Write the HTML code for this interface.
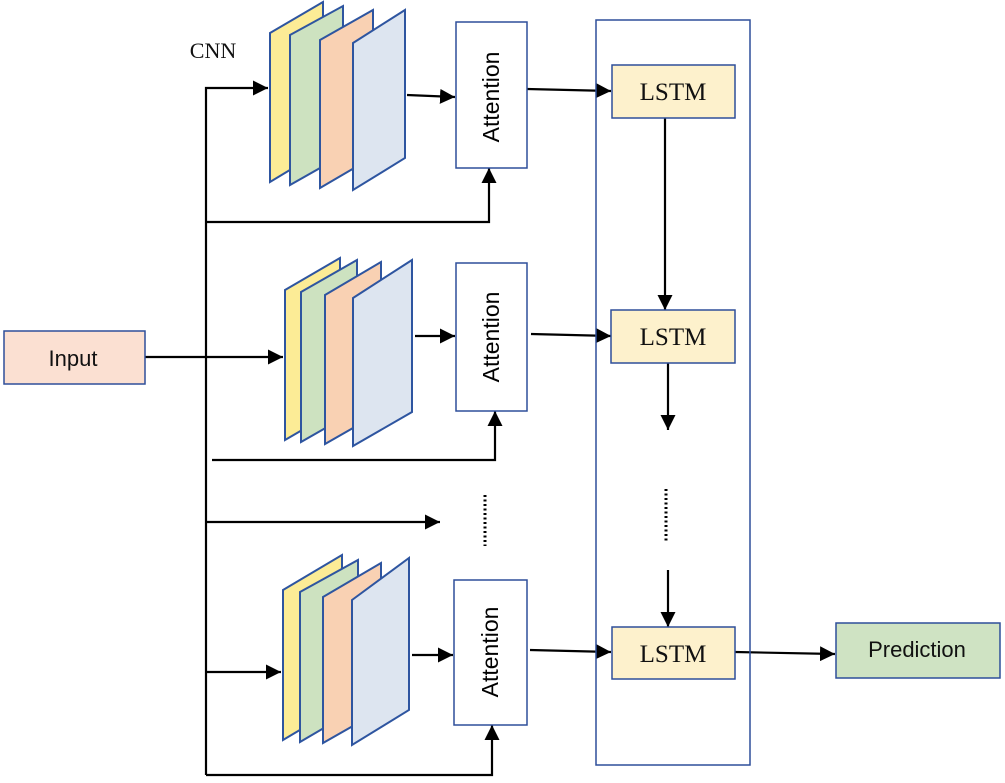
<!DOCTYPE html>
<html><head><meta charset="utf-8"><style>html,body{margin:0;padding:0;background:#fff}</style></head>
<body>
<svg width="1005" height="778" viewBox="0 0 1005 778" xmlns="http://www.w3.org/2000/svg">
<defs>
<marker id="b" viewBox="0 0 10 10" markerWidth="15" markerHeight="15" refX="10" refY="5" orient="auto" markerUnits="userSpaceOnUse">
<path d="M0,0 L10,5 L0,10 z" fill="#000"/>
</marker>
</defs>
<g fill="none" stroke="#000" stroke-width="2.2">
<polyline points="206,775 206,88 268,88" marker-end="url(#b)"/>
<polyline points="206,222 489,222 489,168" marker-end="url(#b)"/>
<line x1="145" y1="357" x2="283" y2="357" marker-end="url(#b)"/>
<polyline points="212,460 495,460 495,411" marker-end="url(#b)"/>
<line x1="206" y1="522" x2="440" y2="522" marker-end="url(#b)"/>
<line x1="206" y1="672" x2="281" y2="672" marker-end="url(#b)"/>
<polyline points="206,775 492,775 492,725" marker-end="url(#b)"/>
<line x1="407" y1="95" x2="455" y2="97" marker-end="url(#b)"/>
<line x1="415" y1="336" x2="455" y2="336" marker-end="url(#b)"/>
<line x1="412" y1="655" x2="453" y2="655" marker-end="url(#b)"/>
<line x1="527" y1="89" x2="611" y2="91" marker-end="url(#b)"/>
<line x1="531" y1="334" x2="611" y2="336" marker-end="url(#b)"/>
<line x1="530" y1="650" x2="611" y2="652" marker-end="url(#b)"/>
<line x1="665" y1="118" x2="665" y2="310" marker-end="url(#b)"/>
<line x1="668" y1="363" x2="668" y2="430" marker-end="url(#b)"/>
<line x1="668" y1="570" x2="668" y2="627" marker-end="url(#b)"/>
<line x1="735" y1="652" x2="835" y2="654" marker-end="url(#b)"/>
</g>
<g stroke="#000" stroke-width="3" stroke-dasharray="2,2.5">
<line x1="485" y1="495" x2="485" y2="546"/>
<line x1="666" y1="489" x2="666" y2="541"/>
</g>
<rect x="596" y="20" width="154" height="745" fill="none" stroke="#2e4f9a" stroke-width="1.5"/>
<g stroke="#2e55a0" stroke-width="2">
<polygon points="270,33 323,2 323,150 270,182" fill="#fcec96"/>
<polygon points="290,35 343,6 343,155 290,185" fill="#cde2c0"/>
<polygon points="320,40 373,10 373,157 320,188" fill="#f9d1b3"/>
<polygon points="353,43 405,10 405,158 353,190" fill="#dde5f0"/>

<polygon points="285,290 340,258 340,408 285,440" fill="#fcec96"/>
<polygon points="301,292 357,260 357,410 301,442" fill="#cde2c0"/>
<polygon points="325,295 381,262 381,412 325,444" fill="#f9d1b3"/>
<polygon points="353,298 412,260 412,412 353,446" fill="#dde5f0"/>

<polygon points="283,590 342,555 342,705 283,740" fill="#fcec96"/>
<polygon points="300,592 358,560 358,708 300,742" fill="#cde2c0"/>
<polygon points="323,597 381,563 381,710 323,743" fill="#f9d1b3"/>
<polygon points="352,600 409,558 409,710 352,745" fill="#dde5f0"/>
</g>
<g fill="#fff" stroke="#2e4f9a" stroke-width="1.5">
<rect x="456" y="22" width="71" height="146"/>
<rect x="456" y="263" width="71" height="148"/>
<rect x="454" y="580" width="73" height="145"/>
</g>
<g font-family="Liberation Sans, sans-serif" font-size="23" fill="#000" text-anchor="middle">
<text transform="translate(491,97) rotate(-90)" dominant-baseline="central">Attention</text>
<text transform="translate(491,337) rotate(-90)" dominant-baseline="central">Attention</text>
<text transform="translate(490,652) rotate(-90)" dominant-baseline="central">Attention</text>
</g>
<g fill="#fdf1cc" stroke="#2e4f9a" stroke-width="1.5">
<rect x="612" y="65" width="123" height="53"/>
<rect x="611" y="310" width="124" height="53"/>
<rect x="612" y="627" width="123" height="52"/>
</g>
<g font-family="Liberation Serif, serif" font-size="25" fill="#111" text-anchor="middle">
<text x="673" y="100">LSTM</text>
<text x="673" y="345">LSTM</text>
<text x="673" y="662">LSTM</text>
<text x="213" y="58" font-size="22">CNN</text>
</g>
<rect x="4" y="331" width="141" height="53" fill="#fbe0d2" stroke="#2e4f9a" stroke-width="1.5"/>
<rect x="836" y="623" width="164" height="55" fill="#cfe3c3" stroke="#2e4f9a" stroke-width="1.5"/>
<g font-family="Liberation Sans, sans-serif" font-size="22" fill="#111" text-anchor="middle">
<text x="73" y="366">Input</text>
<text x="917" y="657">Prediction</text>
</g>
</svg>
</body></html>
